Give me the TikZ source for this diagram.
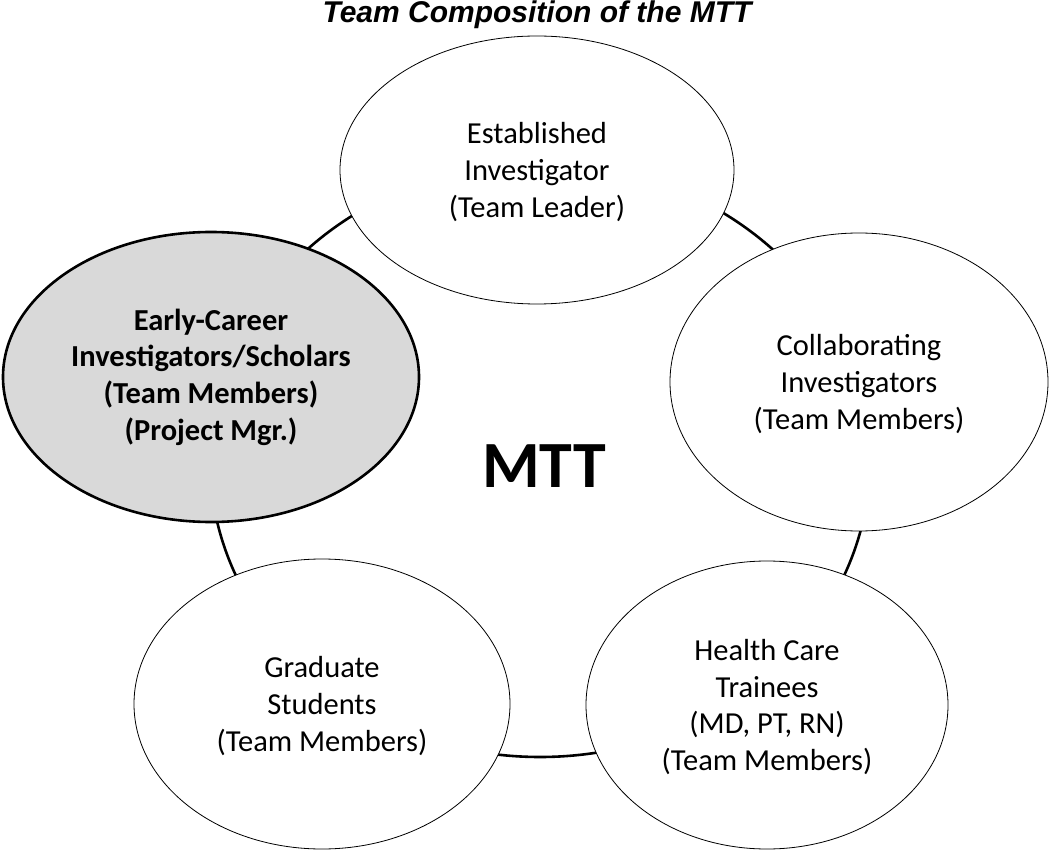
\documentclass[tikz,border=0pt]{standalone}
\usepackage{fontspec}
\setmainfont{Carlito}
\newfontfamily\titlefont{Liberation Sans}
\usetikzlibrary{shapes.geometric}

\begin{document}
\begin{tikzpicture}[
    x=1pt, y=-1pt,
    % Define the style for the member ellipses
    member/.style={
        ellipse,
        draw,
        fill=white,
        line width=0.8pt,
        align=center,
        inner sep=0pt,
        text depth=0pt,
        font=\fontsize{30.5}{36.7}\selectfont
    },
    % Define the style for the highlighted ellipse
    lead/.style={
        member,
        fill=black!15,
        line width=2.6pt,
        text depth=,
        font=\fontsize{30.5}{36.7}\selectfont\bfseries
    },
    % Define the style for the outer ring
    ring/.style={
        ellipse,
        draw,
        line width=2.6pt,
        inner sep=0pt
    }
]

    % Fix the margins
    \useasboundingbox (0,0) rectangle (1050,850);

    % Title and outer ring
    \node [anchor=base, font=\titlefont\fontsize{30}{36}\selectfont\bfseries\itshape] (title) at (537,23) {Team Composition of the MTT};
    \node [ring, minimum width=660pt, minimum height=594pt] (mtt) at (540,460) {};
    \node [font=\fontsize{66}{70}\selectfont\bfseries] (mttlabel) at (544,466) {MTT};

    % Place the nodes (ellipses)
    \node [member, minimum width=394pt, minimum height=268pt] (est) at (537,170) {Established\\Investigator\\(Team Leader)};
    \node [member, minimum width=378pt, minimum height=298pt] (collab) at (859,382) {Collaborating\\Investigators\\(Team Members)};
    \node [member, minimum width=362pt, minimum height=288pt] (health) at (767,705) {Health Care\\Trainees\\(MD, PT, RN)\\(Team Members)};
    \node [member, minimum width=376pt, minimum height=290pt] (grad) at (322,704) {Graduate\\Students\\(Team Members)};
    \node [lead, minimum width=416pt, minimum height=290pt] (early) at (211,377) {Early-Career\\Investigators/Scholars\\(Team Members)\\(Project Mgr.)};

\end{tikzpicture}
\end{document}
